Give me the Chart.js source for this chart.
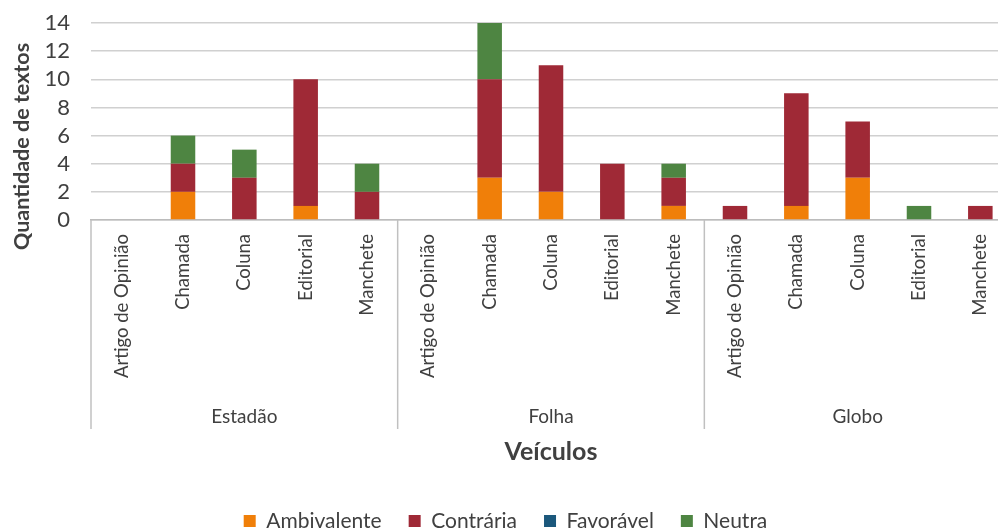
<!DOCTYPE html>
<html>
<head>
<meta charset="utf-8">
<script src="https://cdn.jsdelivr.net/npm/chart.js@4"></script>
<style>
  html, body { margin: 0; padding: 0; background: #fff; overflow: hidden; }
  #wrap { width: 1020px; height: 544px; }
</style>
</head>
<body>
<div id="wrap"><canvas id="grafico"></canvas></div>
<script>
const veiculos = ['Estadão', 'Folha', 'Globo'];
const generos = ['Artigo de Opinião', 'Chamada', 'Coluna', 'Editorial', 'Manchete'];
const categorias = [].concat(generos, generos, generos);

const ambivalente = [0, 2, 0, 1, 0,  0, 3, 2, 0, 1,  0, 1, 3, 0, 0];
const contraria   = [0, 2, 3, 9, 2,  0, 7, 9, 4, 2,  1, 8, 4, 0, 1];
const favoravel   = [0, 0, 0, 0, 0,  0, 0, 0, 0, 0,  0, 0, 0, 0, 0];
const neutra      = [0, 2, 2, 0, 2,  0, 4, 0, 0, 1,  0, 0, 0, 1, 0];

const ticksY = [0, 2, 4, 6, 8, 10, 12, 14];
const tituloY = 'Quantidade de textos';

const fonte = 'Lato, "Open Sans", sans-serif';
const corTexto = '#404040';

// linhas que separam os grupos de veículos e título do eixo Y
const extras = {
  id: 'extras',
  afterDraw(chart) {
    const x = chart.scales.x;
    const x2 = chart.scales.x2;
    const y = chart.scales.y;
    const ctx = chart.ctx;
    const meia = (x.getPixelForValue(1) - x.getPixelForValue(0)) / 2;
    ctx.save();
    ctx.strokeStyle = '#c0c0c0';
    ctx.lineWidth = 1.5;
    for (let i = 0; i <= categorias.length; i += generos.length) {
      const px = i < categorias.length ? x.getPixelForValue(i) - meia : x.getPixelForValue(i - 1) + meia;
      ctx.beginPath();
      ctx.moveTo(px, chart.chartArea.bottom);
      ctx.lineTo(px, x2.top + 24);
      ctx.stroke();
    }
    ctx.translate(y.left + 22, (chart.chartArea.top + chart.chartArea.bottom) / 2 + 25);
    ctx.rotate(-Math.PI / 2);
    ctx.fillStyle = corTexto;
    ctx.font = 'bold 21.5px ' + fonte;
    ctx.textAlign = 'center';
    ctx.textBaseline = 'middle';
    ctx.fillText(tituloY, 0, 0);
    ctx.restore();
  }
};

const ctx = document.getElementById('grafico').getContext('2d');
new Chart(ctx, {
  type: 'bar',
  data: {
    labels: categorias,
    datasets: [
      { label: 'Ambivalente', data: ambivalente, backgroundColor: '#F07F09' },
      { label: 'Contrária', data: contraria, backgroundColor: '#9F2936' },
      { label: 'Favorável', data: favoravel, backgroundColor: '#1B587C' },
      { label: 'Neutra', data: neutra, backgroundColor: '#4E8542' }
    ]
  },
  options: {
    responsive: true,
    maintainAspectRatio: false,
    animation: false,
    datasets: { bar: { barPercentage: 0.4, categoryPercentage: 1 } },
    layout: { autoPadding: false, padding: { top: 23, right: 9, left: 0, bottom: 2.5 } },
    plugins: {
      tooltip: { enabled: false },
      legend: {
        position: 'bottom',
        labels: {
          boxWidth: 12, boxHeight: 12, padding: 27,
          color: corTexto,
          font: { family: fonte, size: 21 }
        }
      }
    },
    scales: {
      x: {
        stacked: true,
        grid: { display: false, drawTicks: false },
        border: { color: '#bcbcbc', width: 1.5 },
        ticks: {
          color: corTexto, minRotation: 90, maxRotation: 90, padding: 14, autoSkip: false,
          font: { family: fonte, size: 18.5 }
        },
        afterFit(scale) { scale.height = 185; }
      },
      x2: {
        type: 'category',
        labels: veiculos,
        position: 'bottom',
        offset: true,
        grid: { display: false, drawTicks: false },
        border: { display: false },
        ticks: { color: corTexto, padding: 0, font: { family: fonte, size: 19 } },
        title: {
          display: true, text: 'Veículos', color: corTexto, padding: { top: 4, bottom: 16.5 },
          font: { family: fonte, size: 25, weight: 'bold' }
        },
        afterFit(scale) { scale.height = 78.5; }
      },
      y: {
        stacked: true,
        min: 0, max: 14,
        afterBuildTicks(scale) { scale.ticks = ticksY.map(v => ({ value: v })); },
        grid: { color: '#d0d0d0', lineWidth: 1.5, drawTicks: false },
        border: { display: false },
        ticks: { color: corTexto, padding: 21, autoSkip: false, font: { family: fonte, size: 22 } },
        afterFit(scale) {
          scale.width = 91;
          scale.paddingTop = 0;
          scale.paddingBottom = 0;
        }
      }
    }
  },
  plugins: [extras]
});
</script>
</body>
</html>
